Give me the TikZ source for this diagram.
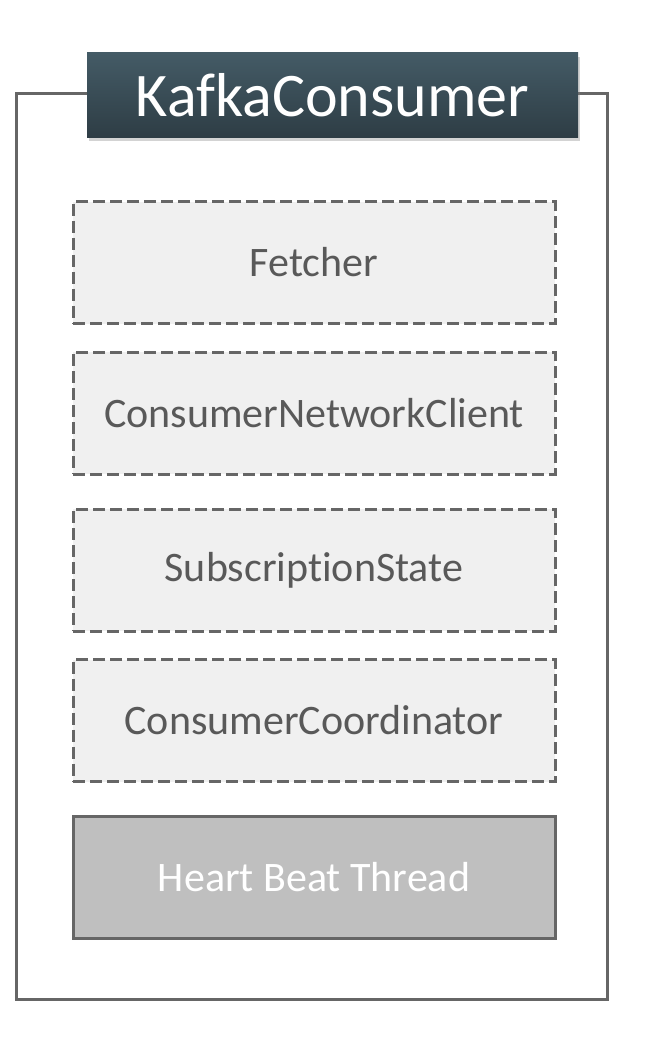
\documentclass[tikz,border=0pt]{standalone}
\usepackage{fontspec}
\setmainfont{Carlito}[Ligatures={NoCommon,NoRare}]
\usetikzlibrary{shadows}

\definecolor{framegray}{HTML}{666666}
\definecolor{labelgray}{HTML}{595959}
\definecolor{partfill}{HTML}{F0F0F0}
\definecolor{threadfill}{HTML}{BFBFBF}
\definecolor{headtop}{HTML}{445B66}
\definecolor{headbot}{HTML}{2E3D45}

\tikzset{
  part/.style={draw=framegray, fill=partfill, line width=3pt,
    dash pattern=on 12pt off 5pt, minimum width=482pt, minimum height=122pt,
    text=labelgray, font=\fontsize{42}{48}\selectfont},
  thread/.style={draw=framegray, fill=threadfill, line width=3pt,
    minimum width=482pt, minimum height=122pt,
    text=white, font=\fontsize{42}{48}\selectfont},
  header/.style={top color=headtop, bottom color=headbot, draw=none,
    minimum width=491pt, minimum height=84pt, text=white,
    font=\fontsize{62}{70}\selectfont,
    drop shadow={shadow xshift=2pt, shadow yshift=-4pt, opacity=0.35}}
}

\begin{document}
\begin{tikzpicture}[x=1pt, y=-1pt]
\useasboundingbox (0,0) rectangle (654,1038);
\coordinate (nw) at (16,94);
\coordinate (se) at (607,999);
% outer frame
\draw[framegray, line width=3pt] (nw) rectangle (se);
% title
\node[header] (kafka) at (332.5,95) {KafkaConsumer};
% parts
\node[part] (fetcher) at (314,262.5) {Fetcher};
\node[part] (netclient) at (314,413) {ConsumerNetworkClient};
\node[part] (substate) at (314,570) {SubscriptionState};
\node[part] (coordinator) at (314,720.5) {ConsumerCoordinator};
\node[thread] (heartbeat) at (314,877.5) {Heart Beat Thread};
\end{tikzpicture}
\end{document}
